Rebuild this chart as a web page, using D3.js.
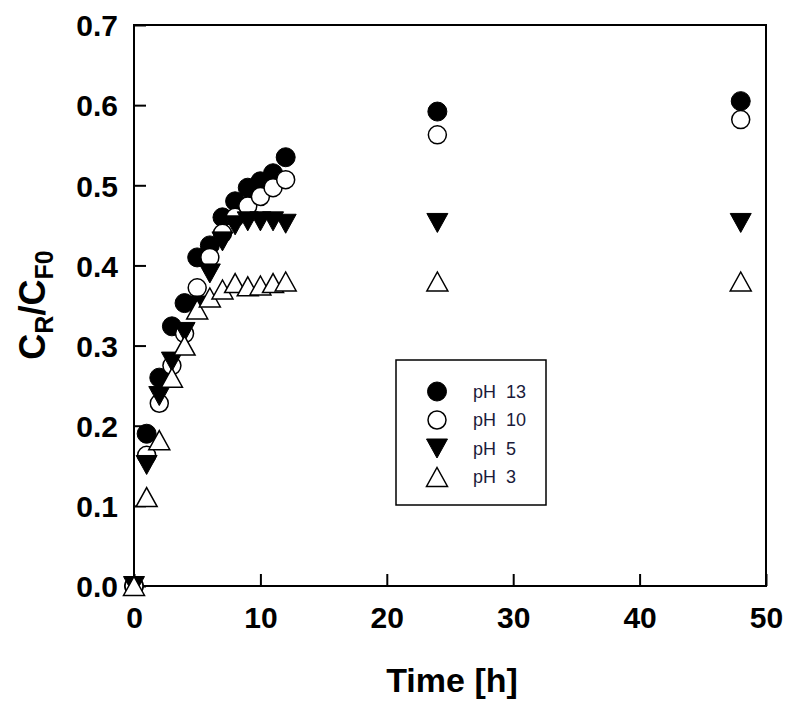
<!DOCTYPE html>
<html><head><meta charset="utf-8">
<script src="https://cdn.jsdelivr.net/npm/d3@7"></script>
<style>html,body{margin:0;padding:0;background:#fff}</style>
</head><body>
<svg id="chart" width="792" height="708"></svg>
<script>
const time = [0,1,2,3,4,5,6,7,8,9,10,11,12,24,48];
const pH13 = [0,0.19,0.26,0.324,0.353,0.41,0.425,0.46,0.48,0.497,0.505,0.515,0.535,0.592,0.605];
const pH10 = [0,0.163,0.228,0.275,0.315,0.372,0.41,0.44,0.46,0.474,0.486,0.497,0.507,0.563,0.582];
const pH5  = [0,0.151,0.237,0.28,0.317,0.35,0.39,0.43,0.45,0.455,0.455,0.455,0.452,0.453,0.453];
const pH3  = [0,0.111,0.182,0.26,0.30,0.345,0.36,0.37,0.378,0.374,0.375,0.378,0.38,0.38,0.38];
const seriesNames = ["pH  13","pH  10","pH  5","pH  3"];
const xTicks = [0,10,20,30,40,50];
const yTicks = [0,0.1,0.2,0.3,0.4,0.5,0.6,0.7];

const svg = d3.select("#chart");
const L=134, R=766, T=25, B=586;
const x = d3.scaleLinear().domain([0,50]).range([L,R]);
const y = d3.scaleLinear().domain([0,0.7]).range([B,T]);

// marker shapes
const rC = 9.5, hw = 10.5, hh = 9.5;
const shapes = {
  fillCircle: g => g.append("circle").attr("r",rC).attr("fill","#000").attr("stroke","#000").attr("stroke-width",1),
  openCircle: g => g.append("circle").attr("r",rC-0.5).attr("fill","#fff").attr("stroke","#000").attr("stroke-width",1.5),
  downTri: g => g.append("path").attr("d",`M${-hw},${-hh}L${hw},${-hh}L0,${hh}Z`).attr("fill","#000").attr("stroke","#000").attr("stroke-width",1),
  upTri: g => g.append("path").attr("d",`M${-hw},${hh}L${hw},${hh}L0,${-hh}Z`).attr("fill","#fff").attr("stroke","#000").attr("stroke-width",1.5)
};
const series = [
  {name:seriesNames[0], vals:pH13, shape:"fillCircle"},
  {name:seriesNames[1], vals:pH10, shape:"openCircle"},
  {name:seriesNames[2], vals:pH5, shape:"downTri"},
  {name:seriesNames[3], vals:pH3, shape:"upTri"}
];

// frame
svg.append("rect").attr("x",L).attr("y",T).attr("width",R-L).attr("height",B-T)
  .attr("fill","none").attr("stroke","#000").attr("stroke-width",2);

// axes
const xAxis = d3.axisBottom(x).tickValues(xTicks).tickSizeInner(-12).tickSizeOuter(0).tickPadding(22).tickFormat(d3.format("d"));
const gx = svg.append("g").attr("transform",`translate(0,${B})`).call(xAxis);
const yAxis = d3.axisLeft(y).tickValues(yTicks).tickSizeInner(-12).tickSizeOuter(0).tickPadding(16).tickFormat(d3.format(".1f"));
const gy = svg.append("g").attr("transform",`translate(${L},0)`).call(yAxis);
[gx,gy].forEach(g=>{
  g.select(".domain").remove();
  g.selectAll(".tick line").attr("stroke","#000").attr("stroke-width",2);
  g.selectAll(".tick text").attr("fill","#000").attr("font-family","'Liberation Sans',Arial,sans-serif")
    .attr("font-weight","bold").attr("font-size",30);
});
gx.selectAll(".tick text").attr("dy","0.71em").attr("y",21);
gy.selectAll(".tick text").attr("dy","0.36em");

// points
series.forEach(s=>{
  const g = svg.append("g");
  time.forEach((t,i)=>{
    const p = g.append("g").attr("transform",`translate(${x(t)},${y(s.vals[i])})`);
    shapes[s.shape](p);
  });
});

// axis titles
svg.append("text").attr("x",452).attr("y",692).attr("text-anchor","middle")
  .attr("font-family","'Liberation Sans',Arial,sans-serif").attr("font-weight","bold").attr("font-size",34)
  .attr("fill","#000").text("Time [h]");

const yt = svg.append("text").attr("transform","translate(45,305) rotate(-90)").attr("text-anchor","middle")
  .attr("font-family","'Liberation Sans',Arial,sans-serif").attr("font-weight","bold").attr("font-size",36).attr("fill","#000");
yt.append("tspan").text("C");
yt.append("tspan").attr("font-size",25).attr("dy",8).text("R");
yt.append("tspan").attr("dy",-8).text("/C");
yt.append("tspan").attr("font-size",25).attr("dy",8).text("F0");

// legend
const lg = svg.append("g");
lg.append("rect").attr("x",396).attr("y",360).attr("width",150).attr("height",145)
  .attr("fill","#fff").attr("stroke","#000").attr("stroke-width",1.5);
const rowY = [391.5,420,448.5,477];
series.forEach((s,i)=>{
  const p = lg.append("g").attr("transform",`translate(437,${rowY[i]})`);
  shapes[s.shape](p);
  lg.append("text").attr("x",473).attr("y",rowY[i]).attr("dy","0.36em")
    .attr("font-family","'Liberation Sans',Arial,sans-serif").attr("font-size",18)
    .attr("fill","#1a1a3a").attr("xml:space","preserve").style("white-space","pre").text(s.name);
});
</script>
</body></html>
